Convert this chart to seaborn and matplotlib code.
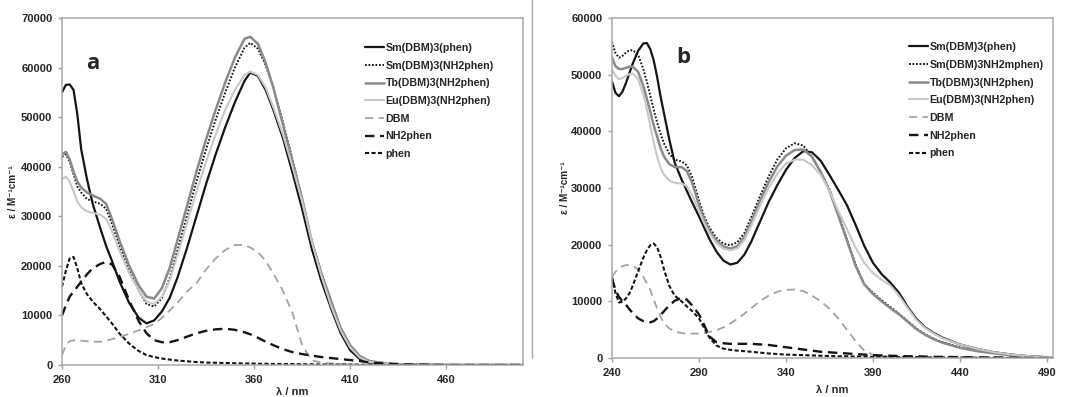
import matplotlib
matplotlib.use("Agg")
import matplotlib.pyplot as plt
from matplotlib.lines import Line2D
import seaborn as sns

# ---------------- panel a ----------------
A_WL = [260, 262, 264, 266, 268, 270, 273, 276, 280, 283,
        286, 290, 295, 300, 304, 308, 312, 316, 320, 325,
        330, 335, 340, 345, 350, 355, 358, 362, 366, 370,
        375, 380, 385, 390, 395, 400, 405, 410, 415, 420,
        430, 440, 460, 480, 500]
A_SM_PHEN = [55000, 56500, 56600, 55500, 50500, 43500, 37500, 32500, 27500, 24000,
             21000, 16800, 12500, 9500, 8400, 9000, 10800, 13500, 17500, 23500,
             30000, 36500, 42500, 48000, 53000, 57300, 59000, 58300, 55500, 51500,
             45800, 38800, 31500, 23500, 17000, 11500, 6500, 3000, 1200, 500,
             150, 50, 0, 0, 0]
A_SM_NH2 = [42000, 42500, 41000, 38500, 36000, 34800, 33500, 33000, 32500, 31500,
            28500, 24000, 19000, 15000, 12300, 11800, 13500, 17500, 23000, 30000,
            37000, 43500, 49500, 55000, 60000, 64000, 65000, 63800, 60500, 56000,
            49000, 41500, 33500, 25000, 18500, 13000, 7500, 4000, 1800, 800,
            250, 100, 0, 0, 0]
A_TB = [42500, 43000, 41500, 39000, 37000, 35800, 34800, 34200, 33500, 32500,
        29500, 25000, 20000, 16000, 13800, 13400, 15500, 19500, 25000, 32000,
        39000, 45500, 51500, 57000, 62000, 65800, 66200, 64800, 61000, 56000,
        48500, 41000, 33500, 25000, 18500, 13000, 7500, 4000, 1800, 800,
        250, 100, 0, 0, 0]
A_EU = [37500, 38000, 37000, 35000, 33000, 31800, 31000, 30700, 30300, 29500,
        27000, 23000, 18500, 15000, 12800, 12300, 13800, 17000, 22000, 28500,
        35000, 41000, 46500, 51500, 55500, 58500, 59200, 58500, 56000, 52000,
        46500, 40000, 33000, 25000, 18000, 12000, 7000, 3500, 1500, 600,
        200, 50, 0, 0, 0]
A_DBM = [2000, 4000, 4800, 5000, 5000, 4900, 4800, 4700, 4700, 4900,
         5200, 5600, 6300, 7000, 7600, 8300, 9500, 11000, 12500, 14800,
         16500, 19300, 21500, 23200, 24200, 24200, 23700, 22800, 21000, 18500,
         15000, 10500, 4000, 900, 500, 300, 200, 100, 50, 0,
         0, 0, 0, 0, 0]
A_NH2PHEN = [10000, 12000, 13800, 14800, 15800, 16800, 18300, 19500, 20400, 20800,
             20300, 17800, 13000, 8800, 6400, 5000, 4600, 4600, 5000, 5700,
             6400, 6900, 7200, 7300, 7100, 6600, 6200, 5500, 4700, 4000,
             3200, 2600, 2200, 1900, 1600, 1400, 1200, 1000, 800, 500,
             250, 100, 0, 0, 0]
A_PHEN = [15800, 19000, 21500, 21800, 19500, 16500, 14300, 12800, 11200, 9800,
          8400, 6300, 4300, 2800, 2000, 1600, 1300, 1100, 900, 750,
          600, 500, 450, 400, 350, 300, 300, 250, 250, 200,
          200, 200, 150, 150, 100, 100, 100, 100, 50, 50,
          0, 0, 0, 0, 0]

# ---------------- panel b ----------------
B_WL = [240, 242, 244, 246, 248, 250, 252, 255, 258, 260,
        262, 264, 266, 268, 270, 273, 276, 280, 283, 286,
        290, 293, 296, 300, 304, 308, 312, 316, 320, 325,
        330, 335, 340, 345, 350, 355, 360, 365, 370, 375,
        380, 385, 390, 395, 400, 405, 410, 415, 420, 425,
        430, 440, 450, 460, 470, 480, 490, 495]
B_SM_PHEN = [48800, 46800, 46200, 47000, 48500, 50300, 52000, 54200, 55500, 55600,
             54500, 52500, 49500, 46000, 43000, 38500, 34500, 31500, 29500, 27500,
             25000, 23000, 21000, 18800, 17200, 16500, 16800, 18200, 20500, 24000,
             27500, 30500, 33200, 35300, 36500, 36300, 34800, 32300, 29700, 27000,
             23500, 19800, 16800, 14800, 13300, 11500, 9000, 6900, 5400, 4400,
             3600, 2400, 1600, 1000, 600, 300, 150, 100]
B_SM_NH2 = [55800, 53800, 53000, 53300, 53900, 54300, 54300, 53500, 51000, 48800,
            46300, 43800, 41500, 39500, 37800, 36000, 35000, 34700, 34000, 32000,
            27800, 25000, 23000, 21200, 20200, 19900, 20400, 22000, 24800, 28500,
            32000, 35000, 37000, 37900, 37500, 35500, 32800, 29800, 25500, 21000,
            16500, 13000, 11500, 10200, 9000, 7800, 6500, 5200, 4200, 3400,
            2800, 1900, 1300, 850, 500, 250, 100, 50]
B_TB = [53000, 51500, 51000, 51000, 51200, 51400, 51400, 50500, 48000, 45800,
        43500, 41000, 39000, 37000, 35500, 34200, 33700, 33700, 33000, 31000,
        27000, 24500, 22500, 20700, 19700, 19300, 19700, 21300, 24000, 27700,
        31000, 33800, 35700, 36700, 36800, 35500, 32800, 29500, 25200, 20800,
        16300, 13000, 11300, 10000, 8800, 7700, 6400, 5100, 4100, 3300,
        2700, 1800, 1200, 800, 450, 250, 100, 50]
B_EU = [51000, 49800, 49200, 49400, 49800, 50100, 50200, 49200, 46500, 44000,
        41000, 38000, 35500, 33500, 32300, 31300, 30900, 30800, 30300, 28800,
        26000, 23800, 22000, 20300, 19300, 19000, 19300, 20800, 23300, 26800,
        30000, 32500, 34300, 35000, 35000, 34000, 32300, 29500, 26000, 22800,
        19500, 16800, 15000, 13800, 12800, 11000, 8800, 6700, 5300, 4300,
        3500, 2400, 1600, 1000, 600, 300, 150, 100]
B_DBM = [14300, 15200, 15800, 16200, 16400, 16400, 16300, 15600, 14300, 13200,
         12000, 10300, 8700, 7200, 6100, 5200, 4700, 4400, 4300, 4300,
         4300, 4400, 4600, 4900, 5400, 6100, 6900, 7800, 8800, 10000,
         11000, 11700, 12000, 12100, 11800, 11000, 10000, 8700, 7000, 5000,
         3000, 1300, 600, 300, 200, 100, 100, 0, 0, 0,
         0, 0, 0, 0, 0, 0, 0, 0]
B_NH2PHEN = [14000, 12000, 10800, 10000, 9400, 8600, 7900, 7000, 6500, 6300,
             6300, 6500, 7000, 7600, 8300, 9300, 10100, 10600, 10300, 9300,
             7700, 5800, 3800, 2800, 2600, 2500, 2500, 2500, 2500, 2400,
             2300, 2100, 1900, 1700, 1500, 1300, 1100, 1000, 900, 800,
             700, 600, 500, 450, 400, 350, 300, 300, 250, 200,
             200, 150, 100, 100, 50, 0, 0, 0]
B_PHEN = [14300, 11500, 9800, 9900, 10500, 11400, 12800, 15300, 17700, 19000,
          19900, 20200, 19500, 17800, 15500, 12700, 11000, 10000, 9100, 8300,
          7000, 5300, 3600, 2200, 1650, 1450, 1300, 1200, 1100, 950,
          800, 700, 600, 550, 500, 450, 400, 350, 300, 300,
          250, 250, 200, 200, 200, 150, 150, 150, 100, 100,
          100, 100, 50, 50, 0, 0, 0, 0]

A_LABELS = ["Sm(DBM)3(phen)", "Sm(DBM)3(NH2phen)", "Tb(DBM)3(NH2phen)",
            "Eu(DBM)3(NH2phen)", "DBM", "NH2phen", "phen"]
B_LABELS = ["Sm(DBM)3(phen)", "Sm(DBM)3NH2mphen)", "Tb(DBM)3(NH2phen)",
            "Eu(DBM)3(NH2phen)", "DBM", "NH2phen", "phen"]

# colour, linestyle, width for the seven traces (same order as labels)
STYLES = [
    ("#151515", "-", 1.6),
    ("#151515", (0, (0.9, 0.9)), 1.4),
    ("#8a8a8a", "-", 1.8),
    ("#c8c8c8", "-", 1.5),
    ("#a3a3a3", (0, (4.5, 3)), 1.3),
    ("#151515", (0, (4, 2.4)), 1.7),
    ("#151515", (0, (2, 1.1)), 1.5),
]

sns.set_style("white")
plt.rcParams["font.family"] = ["Liberation Sans", "DejaVu Sans"]
plt.rcParams["font.weight"] = "bold"

fig = plt.figure(figsize=(10.65, 3.97), dpi=100)
ax_a = fig.add_axes([62 / 1065, 32 / 397, 461 / 1065, 347 / 397])
ax_b = fig.add_axes([612 / 1065, 39 / 397, 441 / 1065, 340 / 397])

panels = [
    (ax_a, A_WL, [A_SM_PHEN, A_SM_NH2, A_TB, A_EU, A_DBM, A_NH2PHEN, A_PHEN], A_LABELS,
     (260, 500), range(260, 501, 50), 70000, "a", (0.067, 0.87), (0.657, 0.928), -0.095, -0.062),
    (ax_b, B_WL, [B_SM_PHEN, B_SM_NH2, B_TB, B_EU, B_DBM, B_NH2PHEN, B_PHEN], B_LABELS,
     (240, 493.5), range(240, 491, 50), 60000, "b", (0.161, 0.885), (0.673, 0.929), -0.095, -0.08),
]

for ax, wl, ys, labels, xlim, xt, ymax, letter, lpos, legpos, ylx, xly in panels:
    for y, lab, (c, ls, lw) in zip(ys, labels, STYLES):
        sns.lineplot(x=wl, y=y, ax=ax, color=c, linestyle=ls, linewidth=lw, label=lab)
    ax.set_xlim(*xlim)
    ax.set_ylim(0, ymax)
    ax.set_xticks(list(xt))
    ax.set_yticks(range(0, ymax + 1, 10000))
    ax.tick_params(axis="both", direction="out", length=3, width=1, color="#a0a0a0",
                   labelsize=8, pad=4, bottom=True, left=True)
    for t in ax.get_xticklabels() + ax.get_yticklabels():
        t.set_fontweight("bold")
    for s in ax.spines.values():
        s.set_color("#a8a8a8")
        s.set_linewidth(1.1)
    ax.set_xlabel("λ / nm", fontsize=8, fontweight="bold")
    ax.set_ylabel("ε / M⁻¹cm⁻¹", fontsize=7.2, fontweight="bold")
    ax.xaxis.set_label_coords(0.5, xly)
    ax.yaxis.set_label_coords(ylx, 0.5)
    ax.text(lpos[0], lpos[1], letter, transform=ax.transAxes, fontsize=16,
            fontweight="bold", family=["Open Sans", "DejaVu Sans"],
            ha="center", va="center")
    leg = ax.legend(loc="upper left", bbox_to_anchor=legpos, frameon=False,
                    borderpad=0, borderaxespad=0, handlelength=1.75,
                    handletextpad=0.2, labelspacing=0.72,
                    prop={"size": 7.7, "weight": "bold"})

fig.add_artist(Line2D([532 / 1065, 532 / 1065], [1 - 358 / 397, 1.0],
                      color="#a8a8a8", linewidth=1.0))

fig.savefig("out.png", dpi=100)
